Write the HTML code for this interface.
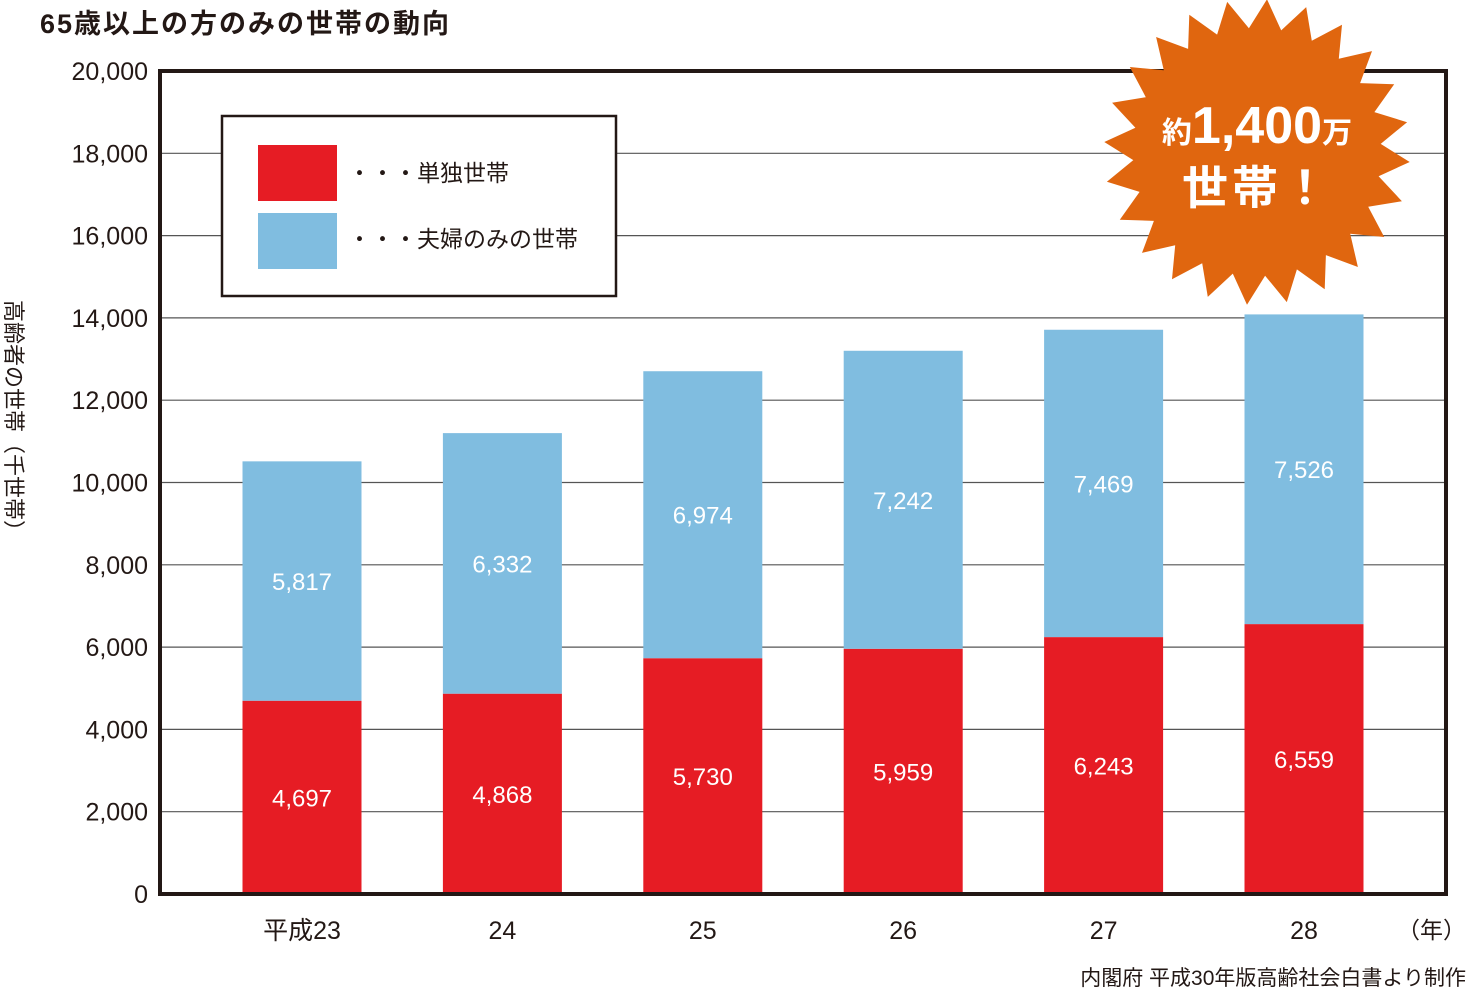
<!DOCTYPE html>
<html><head><meta charset="utf-8">
<style>
body{margin:0;background:#fff;width:1470px;height:990px;overflow:hidden;font-family:"Liberation Sans","Noto Sans CJK JP",sans-serif;}
svg text{font-family:"Liberation Sans","Noto Sans CJK JP",sans-serif;}
</style></head><body>
<svg id="chart" width="1470" height="990" viewBox="0 0 1470 990" xmlns="http://www.w3.org/2000/svg">
<text x="40" y="33" font-size="27" font-weight="bold" fill="#231815" letter-spacing="2">65歳以上の方のみの世帯の動向</text>
<g id="grid"></g>
<g id="bars"></g>
<rect x="160" y="71" width="1286" height="823" fill="none" stroke="#231815" stroke-width="4"/>
<g id="yticks"></g>
<g id="xticks"></g>
<text transform="translate(6,300) rotate(90)" font-size="22" fill="#231815">高齢者の世帯（千世帯）</text>
<text x="1466" y="938" font-size="23" fill="#231815" text-anchor="end">（年）</text>
<text x="1466" y="985" font-size="21" fill="#231815" text-anchor="end">内閣府 平成30年版高齢社会白書より制作</text>
<g>
<rect x="222" y="116" width="394" height="180" fill="#fff" stroke="#231815" stroke-width="2.5"/>
<rect x="258" y="145" width="79" height="56" fill="#e61c24"/>
<text x="348" y="181" font-size="23" fill="#231815">・・・単独世帯</text>
<rect x="258" y="213" width="79" height="56" fill="#80bde0"/>
<text x="348" y="247" font-size="23" fill="#231815">・・・夫婦のみの世帯</text>
</g>
<g>
<polygon id="burst" fill="#e0660f"/>
<text x="1257" y="143" text-anchor="middle" fill="#fff" font-weight="bold"><tspan font-size="30">約</tspan><tspan font-size="52">1,400</tspan><tspan font-size="30">万</tspan></text>
<text x="1257" y="204" text-anchor="middle" fill="#fff" font-weight="bold" font-size="46" letter-spacing="4">世帯！</text>
</g>
</svg>
<script>
const categories = ["平成23","24","25","26","27","28"];
const singleValues = [4697,4868,5730,5959,6243,6559];
const coupleValues = [5817,6332,6974,7242,7469,7526];
const yTicks = [0,2000,4000,6000,8000,10000,12000,14000,16000,18000,20000];
const NS="http://www.w3.org/2000/svg";
const y0=894, yTop=71, yMax=20000;
function yScale(v){return y0-(v/yMax)*(y0-yTop);}
function xCenter(i){return 302+i*200.4;}
const barW=119;
function mk(tag,attrs,parent){const e=document.createElementNS(NS,tag);for(const k in attrs)e.setAttribute(k,attrs[k]);parent.appendChild(e);return e;}
const grid=document.getElementById('grid'), yt=document.getElementById('yticks'), xt=document.getElementById('xticks'), bars=document.getElementById('bars');
yTicks.forEach(t=>{
  const y=yScale(t);
  if(t>0&&t<yMax){const l=mk('line',{x1:160,x2:1446,y1:y,y2:y,stroke:'#555','stroke-width':1.2},grid);
  
  }
  const tx=mk('text',{x:148,y:y+9,'font-size':25,fill:'#231815','text-anchor':'end'},yt);
  tx.textContent=t.toLocaleString('en-US');
  
  
});
categories.forEach((c,i)=>{
  const cx=xCenter(i), s=singleValues[i], k=coupleValues[i];
  const r1=mk('rect',{x:cx-barW/2,y:yScale(s),width:barW,height:y0-yScale(s),fill:'#e61c24'},bars);
  
  
  const r2=mk('rect',{x:cx-barW/2,y:yScale(s+k),width:barW,height:yScale(s)-yScale(s+k),fill:'#80bde0'},bars);
  
  
  const t1=mk('text',{x:cx,y:(yScale(s)+y0)/2+9,'font-size':24,fill:'#fff','text-anchor':'middle'},bars);
  t1.textContent=s.toLocaleString('en-US');
  
  
  const t2=mk('text',{x:cx,y:(yScale(s)+yScale(s+k))/2+9,'font-size':24,fill:'#fff','text-anchor':'middle'},bars);
  t2.textContent=k.toLocaleString('en-US');
  
  
  const xl=mk('text',{x:cx,y:939,'font-size':25,fill:'#231815','text-anchor':'middle'},xt);
  xl.textContent=c;
  
  
});
// starburst
const pts=[];const n=24,cx=1257,cy=152,ro=153,ri=124;
for(let i=0;i<2*n;i++){const a=(i*Math.PI/n)-Math.PI/2+Math.PI/n/2;const r=i%2===0?ro:ri;pts.push((cx+r*Math.cos(a)).toFixed(1)+','+(cy+r*Math.sin(a)).toFixed(1));}
document.getElementById('burst').setAttribute('points',pts.join(' '));
</script>
</body></html>
